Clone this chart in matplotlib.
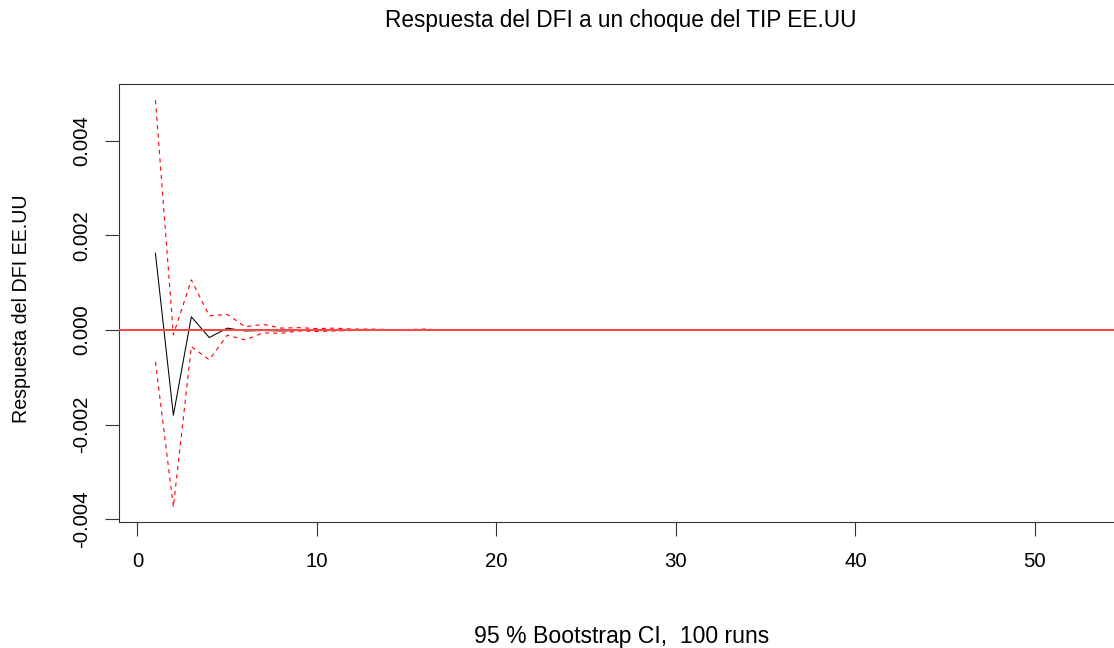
import matplotlib
matplotlib.use("Agg")
import matplotlib.pyplot as plt

plt.rcParams['font.family'] = ['Liberation Sans', 'DejaVu Sans']
plt.rcParams['lines.scale_dashes'] = False

# ---- data ----
horizon = list(range(1, 54))
irf = [0.00162, -0.00180, 0.00028, -0.00016, 0.00004, -0.00002, -0.00001, -0.00002, -0.00001,
       -0.00001, 0.00001, 0.0, 0.0, 0.0, 0.0, 0.0] + [0.0] * 37
upper = [0.00486, -0.00010, 0.00106, 0.00030, 0.00033, 0.00007, 0.00012, 0.00004, 0.00005,
         0.00003, 0.00004, 0.00002, 0.00002, 0.00001, 0.00001, 0.00002] + [0.0] * 37
lower = [-0.00067, -0.00374, -0.00035, -0.00063, -0.00011, -0.00021, -0.00006, -0.00007, -0.00002,
         -0.00003, -0.00002, -0.00001, -0.00001, -0.00001, -0.00001, -0.00001] + [0.0] * 37
xticks = [0, 10, 20, 30, 40, 50]
yticks = [-0.004, -0.002, 0.0, 0.002, 0.004]
ytick_labels = ["-0.004", "-0.002", "0.000", "0.002", "0.004"]

title = "Respuesta del DFI a un choque del TIP EE.UU"
ylabel = "Respuesta del DFI EE.UU"
xlabel = "95 % Bootstrap CI,  100 runs"

W, H = 1114, 648
fig = plt.figure(figsize=(W / 100, H / 100), dpi=100)
left_px, right_px, top_px, bottom_px = 119, 1126, 84.3, 521.7
ax = fig.add_axes([left_px / W, 1 - bottom_px / H, (right_px - left_px) / W, (bottom_px - top_px) / H])

ax.plot(horizon, irf, color='black', lw=0.75)
ax.plot(horizon, upper, color='red', lw=0.8, dashes=(3.0, 3.0))
ax.plot(horizon, lower, color='red', lw=0.8, dashes=(3.0, 3.0))
ax.axhline(0, color='#ff4848', lw=1.45, zorder=5)

ax.set_xlim(-1.03, 55.08)
ax.set_ylim(-0.004053, 0.005195)
ax.set_xticks(xticks)
ax.set_xticklabels([str(t) for t in xticks])
ax.set_yticks(yticks)
ax.set_yticklabels(ytick_labels, rotation=90, va='center')

for s in ax.spines.values():
    s.set_linewidth(0.8)
    s.set_color('#333333')
ax.tick_params(axis='both', length=9.8, width=0.8, color='#333333', labelsize=14.7)
ax.tick_params(axis='x', pad=12)
ax.tick_params(axis='y', pad=10.5)

fig.text(620.5 / W, 1 - 21 / H, title, ha='center', va='center', fontsize=16.3)
fig.text(21.5 / W, 1 - 309 / H, ylabel, ha='center', va='center', rotation=90, fontsize=14.1)
fig.text(622 / W, 1 - 636 / H, xlabel, ha='center', va='center', fontsize=16.6)

fig.savefig("out.png", dpi=100)
